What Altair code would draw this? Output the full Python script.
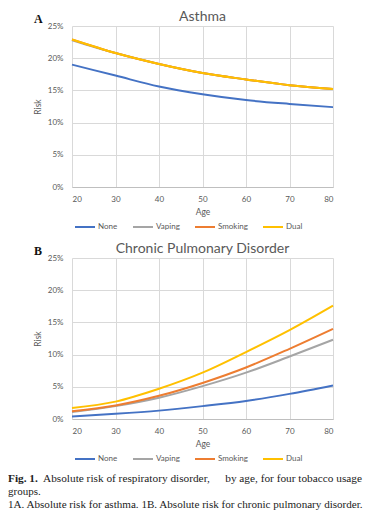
import altair as alt
import pandas as pd

ages = [20, 30, 40, 50, 60, 70, 80]
groups = ["None", "Vaping", "Smoking", "Dual"]
colors = ["#4472C4", "#A5A5A5", "#ED7D31", "#FFC000"]

# Asthma risk (%)
asthma_none = [19.0, 17.3, 15.6, 14.4, 13.5, 12.9, 12.4]
asthma_vaping = [22.8, 20.8, 19.1, 17.7, 16.7, 15.8, 15.2]
asthma_smoking = [22.9, 20.8, 19.1, 17.7, 16.7, 15.8, 15.2]
asthma_dual = [22.9, 20.8, 19.1, 17.7, 16.7, 15.8, 15.2]

# Chronic pulmonary disorder risk (%)
copd_none = [0.4, 0.8, 1.3, 2.0, 2.8, 3.9, 5.2]
copd_vaping = [1.1, 2.0, 3.3, 5.1, 7.2, 9.7, 12.3]
copd_smoking = [1.2, 2.1, 3.6, 5.6, 8.0, 10.9, 14.0]
copd_dual = [1.7, 2.7, 4.7, 7.2, 10.4, 13.8, 17.6]

x_ticks = [20, 30, 40, 50, 60, 70, 80]
y_ticks = [0, 0.05, 0.10, 0.15, 0.20, 0.25]

titles = ["Asthma", "Chronic Pulmonary Disorder"]
letters = ["A", "B"]

caption_bold = "Fig. 1."
caption_line1a = "Absolute risk of respiratory disorder,"
caption_line1b = "by age, for four tobacco usage"
caption_line2 = "groups."
caption_line3 = "1A. Absolute risk for asthma. 1B. Absolute risk for chronic pulmonary disorder."


def long_df(series):
    rows = []
    for g, vals in zip(groups, series):
        for a, v in zip(ages, vals):
            rows.append({"Age": a, "Risk": v / 100.0, "Group": g})
    return pd.DataFrame(rows)


asthma_df = long_df([asthma_none, asthma_vaping, asthma_smoking, asthma_dual])
copd_df = long_df([copd_none, copd_vaping, copd_smoking, copd_dual])

GREY = "#595959"
FONT = "Lato"
W, H = 261, 161


def text_layer(txt, x, y, bold=False, align="left", size=11, font="Liberation Serif", color="#222222"):
    return alt.Chart(pd.DataFrame({"t": [txt]})).mark_text(
        font=font, fontSize=size, fontWeight="bold" if bold else "normal",
        align=align, baseline="middle", color=color
    ).encode(text="t:N", x=alt.value(x), y=alt.value(y))


def panel(df, title, letter, extra=None):
    lines = alt.Chart(df).mark_line(strokeWidth=2, interpolate="monotone").encode(
        x=alt.X("Age:Q", scale=alt.Scale(domain=[20, 80], nice=False),
                axis=alt.Axis(values=x_ticks, title="Age", grid=True, domain=True,
                              domainColor="#bfbfbf", labelPadding=8, titlePadding=4)),
        y=alt.Y("Risk:Q", scale=alt.Scale(domain=[0, 0.25], nice=False),
                axis=alt.Axis(values=y_ticks, format=".0%", title="Risk", grid=True,
                              domain=False, labelPadding=9, titlePadding=5)),
        color=alt.Color("Group:N", sort=groups,
                        scale=alt.Scale(domain=groups, range=colors),
                        legend=alt.Legend(title=None, orient="none", direction="horizontal",
                                          legendX=2, legendY=190, symbolType="stroke",
                                          symbolStrokeWidth=2, symbolSize=400,
                                          labelFont=FONT, labelFontSize=8, labelColor=GREY,
                                          labelOffset=2, columnPadding=11)),
    )
    layers = [
        lines,
        text_layer(title, W / 2, -9.5, align="center", size=14, font=FONT, color=GREY),
        text_layer(letter, -38, -7, bold=True, size=12, color="#111111"),
    ]
    if extra:
        layers += extra
    return alt.layer(*layers).properties(width=W, height=H)


caption = [
    text_layer(caption_bold, -64, 221, bold=True, size=11.3),
    text_layer(caption_line1a, -29, 221, size=11.3),
    text_layer(caption_line1b, 290, 221, align="right", size=11.3),
    text_layer(caption_line2, -64, 234),
    text_layer(caption_line3, -64, 247, size=11.1),
]

chart_a = panel(asthma_df, titles[0], letters[0])
chart_b = panel(copd_df, titles[1], letters[1], caption)

chart = alt.vconcat(chart_a, chart_b, spacing=71, bounds="flush").resolve_legend(
    color="independent"
).properties(
    padding={"left": 0, "top": 1, "right": 0, "bottom": 0}
).configure_view(stroke=None).configure_axis(
    labelFont=FONT, labelFontSize=8, labelColor=GREY,
    titleFont=FONT, titleFontSize=8.5, titleColor=GREY, titleFontWeight="normal",
    gridColor="#d9d9d9", ticks=False, tickSize=0,
)

chart.save("out.html", embed_options={"renderer": "svg", "actions": False})
